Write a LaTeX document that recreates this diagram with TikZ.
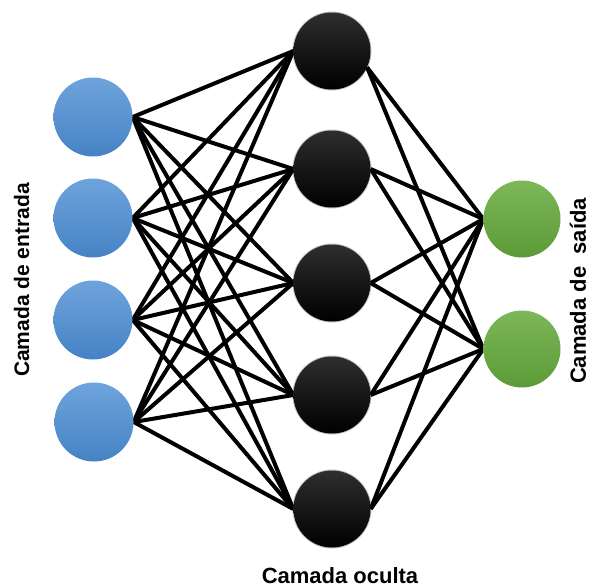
\documentclass[tikz,border=0pt]{standalone}
\usepackage{fontspec}
\setmainfont{Liberation Sans}
\usetikzlibrary{backgrounds}
\definecolor{inTop}{HTML}{6EA4DC}
\definecolor{inBot}{HTML}{4682C4}
\definecolor{outTop}{HTML}{7DB758}
\definecolor{outBot}{HTML}{5C9A37}
\begin{document}
\begin{tikzpicture}[x=1pt,y=-1pt,
  neuron/.style={circle,inner sep=0pt,minimum size=79pt},
  inneuron/.style={neuron,top color=inTop,bottom color=inBot},
  outneuron/.style={neuron,minimum size=77pt,top color=outTop,bottom color=outBot},
  hidneuron/.style={neuron,minimum size=77pt,top color=black!82,middle color=black,bottom color=black},
  halo/.style={fill=black,opacity=0.25},
  link/.style={line width=4pt,black},
  layerlabel/.style={inner sep=0pt,font=\fontsize{#1}{#1}\selectfont\bfseries}]
\useasboundingbox (0,0) rectangle (590,587);

% input layer
\node[inneuron] (i1) at (93,117) {};
\node[inneuron] (i2) at (93,218) {};
\node[inneuron] (i3) at (93,320) {};
\node[inneuron] (i4) at (94,422) {};

% hidden layer, with a soft rim
\foreach \n/\y in {1/51,2/169,3/283,4/395,5/509}{
  \fill[halo] (332,\y) circle (39.5pt);
  \node[hidneuron] (h\n) at (332,\y) {};
}

% output layer
\node[outneuron] (o1) at (522,219) {};
\node[outneuron] (o2) at (522,349) {};

% connections
\begin{scope}[on background layer]
  \foreach \i in {1,...,4}
    \foreach \h in {1,...,5}
      \draw[link] (i\i.east) -- (h\h.west);
  \foreach \o in {1,2}{
    \draw[link] (h1.-25) -- (o\o.west);
    \foreach \h in {2,...,5}
      \draw[link] (h\h.east) -- (o\o.west);
  }
\end{scope}

% layer names
\node[layerlabel=21,rotate=90] (lin) at (21.5,280) {Camada de entrada};
\node[layerlabel=22,rotate=90] (lout) at (578,291) {Camada de\ \ saída};
\node[layerlabel=22,anchor=base] (lhid) at (340,583) {Camada oculta};
\end{tikzpicture}
\end{document}
